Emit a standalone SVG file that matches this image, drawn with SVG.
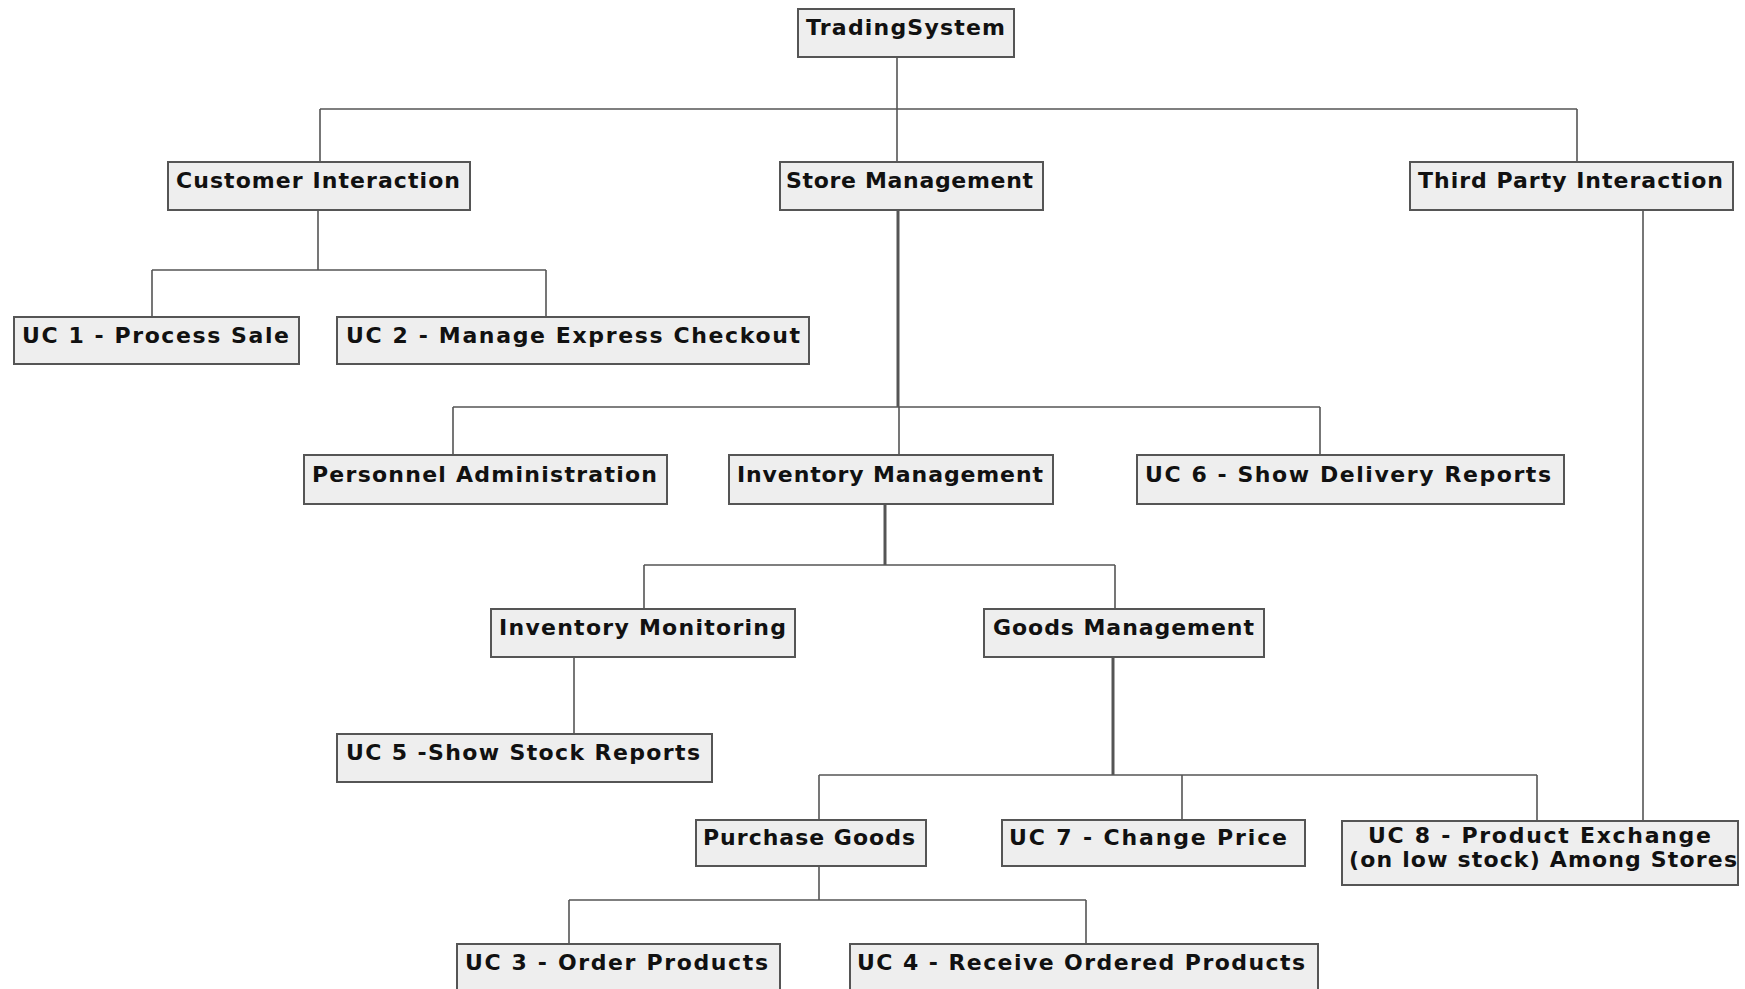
<svg xmlns="http://www.w3.org/2000/svg" width="1745" height="989" viewBox="0 0 1745 989">
  <style>
    .node rect { fill: #eeeeee; stroke: #555555; stroke-width: 2; }
    .node text { font-family: "DejaVu Sans", "Liberation Sans", sans-serif; font-weight: bold; font-size: 22px; fill: #111111; }
    .edge { fill: none; stroke: #555555; stroke-width: 1.6; }
    .edge.heavy { stroke-width: 3; }
  </style>
  <rect x="0" y="0" width="1745" height="989" fill="#ffffff"/>

  <!-- tree connectors -->
  <g id="connectors">
    <!-- TradingSystem -> level 1 -->
    <path class="edge" d="M897 57 V109 M320 109 H1577 M320 109 V162 M897 109 V162 M1577 109 V162"/>
    <!-- Customer Interaction -> UC1, UC2 -->
    <path class="edge" d="M318 210 V270 M152 270 H546 M152 270 V317 M546 270 V317"/>
    <!-- Store Management -> children -->
    <path class="edge heavy" d="M898 210 V407"/>
    <path class="edge" d="M453 407 H1320 M453 407 V455 M899 407 V455 M1320 407 V455"/>
    <!-- Inventory Management -> children -->
    <path class="edge heavy" d="M885 504 V565"/>
    <path class="edge" d="M644 565 H1115 M644 565 V609 M1115 565 V609"/>
    <!-- Inventory Monitoring -> UC5 -->
    <path class="edge" d="M574 657 V734"/>
    <!-- Goods Management -> children -->
    <path class="edge heavy" d="M1113 657 V775"/>
    <path class="edge" d="M819 775 H1537 M819 775 V820 M1182 775 V820 M1537 775 V821"/>
    <!-- Third Party Interaction -> UC8 -->
    <path class="edge" d="M1643 210 V821"/>
    <!-- Purchase Goods -> UC3, UC4 -->
    <path class="edge" d="M819 866 V900 M569 900 H1086 M569 900 V944 M1086 900 V944"/>
  </g>

  <g id="trading-system" class="node">
    <rect x="798" y="9" width="216" height="48"/>
    <text x="806" y="35" textLength="199" lengthAdjust="spacing">TradingSystem</text>
  </g>
  <g id="customer-interaction" class="node">
    <rect x="168" y="162" width="302" height="48"/>
    <text x="176" y="188" textLength="284" lengthAdjust="spacing">Customer Interaction</text>
  </g>
  <g id="store-management" class="node">
    <rect x="780" y="162" width="263" height="48"/>
    <text x="786" y="188" textLength="247" lengthAdjust="spacing">Store Management</text>
  </g>
  <g id="third-party-interaction" class="node">
    <rect x="1410" y="162" width="323" height="48"/>
    <text x="1418" y="188" textLength="305" lengthAdjust="spacing">Third Party Interaction</text>
  </g>
  <g id="uc1" class="node">
    <rect x="14" y="317" width="285" height="47"/>
    <text x="22" y="343" textLength="267" lengthAdjust="spacing">UC 1 - Process Sale</text>
  </g>
  <g id="uc2" class="node">
    <rect x="337" y="317" width="472" height="47"/>
    <text x="346" y="343" textLength="454" lengthAdjust="spacing">UC 2 - Manage Express Checkout</text>
  </g>
  <g id="personnel-administration" class="node">
    <rect x="304" y="455" width="363" height="49"/>
    <text x="312" y="482" textLength="345" lengthAdjust="spacing">Personnel Administration</text>
  </g>
  <g id="inventory-management" class="node">
    <rect x="729" y="455" width="324" height="49"/>
    <text x="737" y="482" textLength="306" lengthAdjust="spacing">Inventory Management</text>
  </g>
  <g id="uc6" class="node">
    <rect x="1137" y="455" width="427" height="49"/>
    <text x="1145" y="482" textLength="406" lengthAdjust="spacing">UC 6 - Show Delivery Reports</text>
  </g>
  <g id="inventory-monitoring" class="node">
    <rect x="491" y="609" width="304" height="48"/>
    <text x="499" y="635" textLength="287" lengthAdjust="spacing">Inventory Monitoring</text>
  </g>
  <g id="goods-management" class="node">
    <rect x="984" y="609" width="280" height="48"/>
    <text x="993" y="635" textLength="261" lengthAdjust="spacing">Goods Management</text>
  </g>
  <g id="uc5" class="node">
    <rect x="337" y="734" width="375" height="48"/>
    <text x="346" y="760" textLength="354" lengthAdjust="spacing">UC 5 -Show Stock Reports</text>
  </g>
  <g id="purchase-goods" class="node">
    <rect x="696" y="820" width="230" height="46"/>
    <text x="703" y="845" textLength="212" lengthAdjust="spacing">Purchase Goods</text>
  </g>
  <g id="uc7" class="node">
    <rect x="1002" y="820" width="303" height="46"/>
    <text x="1009" y="845" textLength="278" lengthAdjust="spacing">UC 7 - Change Price</text>
  </g>
  <g id="uc8" class="node">
    <rect x="1342" y="821" width="396" height="64"/>
    <text x="1368" y="843" textLength="343" lengthAdjust="spacing">UC 8 - Product Exchange</text>
    <text x="1349" y="867" textLength="388" lengthAdjust="spacing">(on low stock) Among Stores</text>
  </g>
  <g id="uc3" class="node">
    <rect x="457" y="944" width="323" height="48"/>
    <text x="465" y="970" textLength="303" lengthAdjust="spacing">UC 3 - Order Products</text>
  </g>
  <g id="uc4" class="node">
    <rect x="850" y="944" width="468" height="48"/>
    <text x="857" y="970" textLength="448" lengthAdjust="spacing">UC 4 - Receive Ordered Products</text>
  </g>
</svg>
